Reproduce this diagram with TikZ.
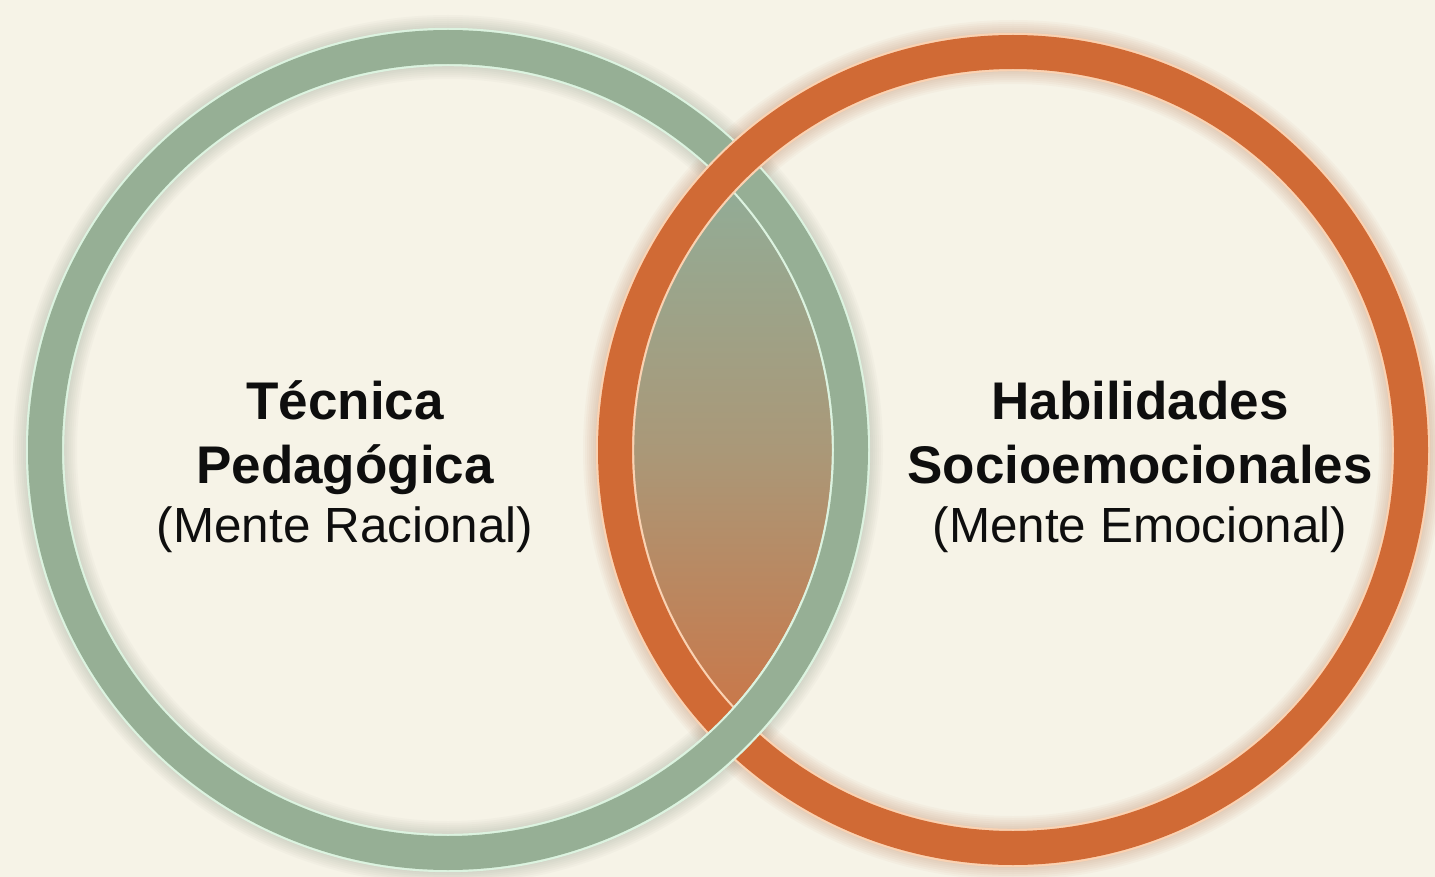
\documentclass[tikz,border=0pt]{standalone}
\usepackage{fontspec}
\setmainfont{Liberation Sans}

\definecolor{paper}{HTML}{F6F3E7}
\definecolor{sage}{HTML}{96AF95}
\definecolor{sageedge}{HTML}{DCF3E0}
\definecolor{rust}{HTML}{D06A35}
\definecolor{rustedge}{HTML}{FAD2B2}
\definecolor{lenstop}{HTML}{92AC96}
\definecolor{lensmid}{HTML}{AA9878}
\definecolor{lensbot}{HTML}{C9784A}
\definecolor{ink}{HTML}{0E0E0E}

\tikzset{
  greenband/.style={draw=sageedge, line width=1.1pt, double=sage, double distance=17pt},
  orangeband/.style={draw=rustedge, line width=1.1pt, double=rust, double distance=17pt},
  title/.style={anchor=base, text=ink, font=\bfseries\fontsize{26.5}{31}\selectfont},
  subtitle/.style={anchor=base, text=ink, font=\fontsize{24.7}{29}\selectfont},
}

\begin{document}
\begin{tikzpicture}[x=0.5pt,y=-0.5pt]
\fill[paper] (0,0) rectangle (1435,877);
\useasboundingbox (0,0) rectangle (1435,877);
\coordinate (cl) at (448,450); \coordinate (cr) at (1013,450);

% soft glow round the rings
\foreach \w in {20,22,...,32} {
  \draw[sage!70!black, opacity=0.035, line width=\w pt] (cl) circle [radius=201.5pt];
  \draw[rust!80!black, opacity=0.035, line width=\w pt] (cr) circle [radius=199pt];
}

% the lens where both meet
\begin{scope}
\clip (cl) circle [radius=192pt];
\clip (cr) circle [radius=190pt];
\shade[top color=lenstop, bottom color=lensbot, middle color=lensmid] (600,190) rectangle (880,710);
\end{scope}

\draw[greenband] (cl) circle [radius=201.5pt];
\draw[orangeband] (cr) circle [radius=199pt];
% green goes over orange at the lower crossing
\begin{scope}
\clip (600,600) rectangle (900,877);
\draw[greenband] (cl) circle [radius=201.5pt];
\end{scope}

\node (tecnica) [title] at (345,419) {Técnica};
\node (pedagogica) [title] at (345,483) {Pedagógica};
\node (racional) [subtitle] at (345,542) {(Mente Racional)};
\node (habilidades) [title] at (1140,419) {Habilidades};
\node (socio) [title] at (1140,483) {Socioemocionales};
\node (emocional) [subtitle] at (1140,542) {(Mente Emocional)};
\end{tikzpicture}
\end{document}
